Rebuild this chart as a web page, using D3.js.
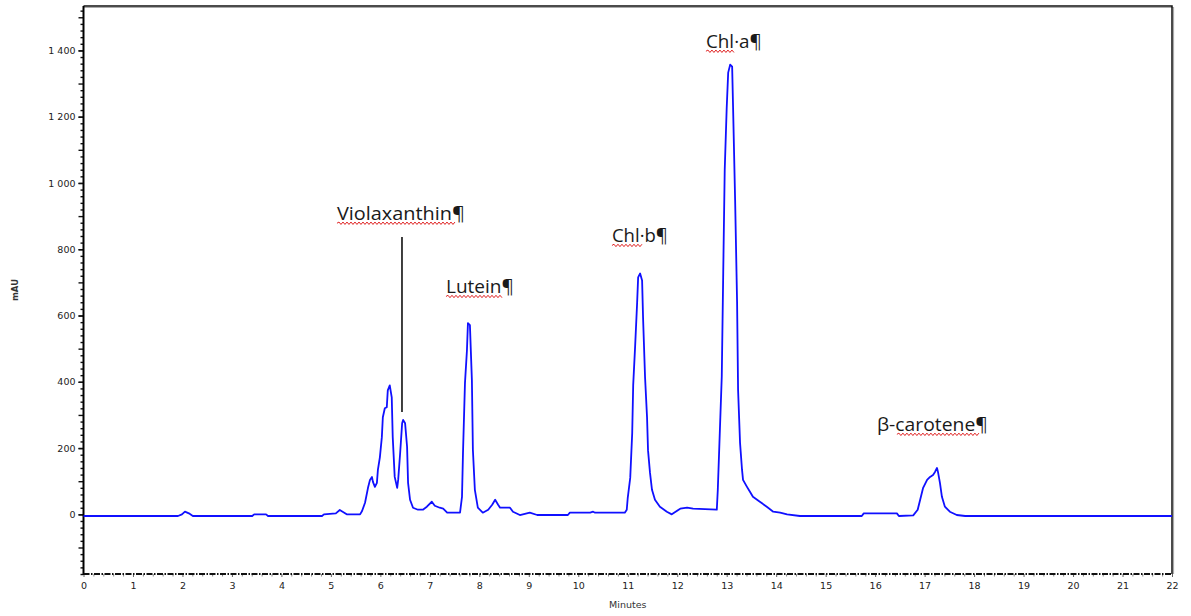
<!DOCTYPE html>
<html>
<head>
<meta charset="utf-8">
<script src="https://cdn.jsdelivr.net/npm/d3@7"></script>
<style>
  html, body { margin: 0; padding: 0; background: #fff; }
  svg { display: block; }
</style>
</head>
<body>
<svg id="chart" width="1191" height="616"></svg>
<script>
// ---------------- DATA ----------------
// Retention time (minutes)
const times = [
  0, 1.91, 1.99, 2.05, 2.13, 2.21, 3.41, 3.45, 3.69, 3.73,
  4.82, 4.86, 5.10, 5.18, 5.27, 5.32, 5.59, 5.63, 5.69, 5.75,
  5.79, 5.83, 5.85, 5.89, 5.93, 5.95, 5.99, 6.03, 6.05, 6.09,
  6.13, 6.15, 6.19, 6.23, 6.25, 6.29, 6.34, 6.36, 6.40, 6.44,
  6.46, 6.50, 6.54, 6.56, 6.60, 6.66, 6.76, 6.86, 6.94, 7.04,
  7.10, 7.20, 7.27, 7.35, 7.61, 7.65, 7.67, 7.71, 7.75, 7.77,
  7.81, 7.85, 7.87, 7.91, 7.97, 8.07, 8.18, 8.26, 8.32, 8.38,
  8.42, 8.62, 8.68, 8.82, 9.02, 9.17, 9.79, 9.83, 10.24, 10.30,
  10.34, 10.94, 10.98, 11.00, 11.05, 11.09, 11.11, 11.15, 11.19, 11.21,
  11.25, 11.29, 11.31, 11.35, 11.39, 11.41, 11.45, 11.49, 11.55, 11.65,
  11.79, 11.89, 12.06, 12.20, 12.32, 12.80, 12.82, 12.90, 12.93, 12.96,
  13.00, 13.03, 13.07, 13.11, 13.13, 13.17, 13.21, 13.23, 13.27, 13.31,
  13.33, 13.41, 13.47, 13.53, 13.67, 13.81, 13.94, 14.08, 14.22, 14.48,
  15.73, 15.77, 16.44, 16.48, 16.77, 16.86, 16.91, 16.97, 17.05, 17.11,
  17.17, 17.21, 17.25, 17.27, 17.31, 17.35, 17.41, 17.51, 17.65, 17.82,
  22
];
// Absorbance (mAU)
const mAU = [
  -5, -5, 0, 8, 3, -5, -5, 0, 0, -5,
  -5, 0, 3, 13, 5, 0, 0, 10, 35, 80,
  104, 113, 98, 83, 95, 134, 172, 233, 293, 320,
  323, 374, 389, 353, 233, 113, 80, 104, 185, 275,
  285, 275, 204, 95, 44, 20, 14, 14, 23, 38,
  26, 20, 17, 5, 5, 53, 185, 396, 495, 577,
  571, 405, 195, 74, 20, 5, 14, 29, 44, 29,
  20, 20, 8, -2, 5, -2, -2, 5, 5, 8,
  5, 5, 14, 50, 110, 245, 390, 510, 640, 715,
  727, 706, 591, 413, 293, 193, 125, 74, 44, 23,
  8, 0, 17, 20, 17, 14, 74, 415, 732, 1040,
  1227, 1333, 1357, 1351, 1220, 949, 638, 375, 215, 134,
  104, 83, 68, 53, 38, 23, 8, 5, 0, -5,
  -5, 3, 3, -5, -3, 14, 44, 80, 104, 113,
  119, 128, 140, 128, 95, 53, 23, 8, -2, -5,
  -5
];

// Peak labels (text anchored at data coordinates: time, mAU)
const peakNames = ["Violaxanthin\u00B6", "Lutein\u00B6", "Chl\u00B7b\u00B6", "Chl\u00B7a\u00B6", "\u03B2-carotene\u00B6"];
const peakLabelTime = [5.123, 7.326, 10.681, 12.580, 16.036];
const peakLabelMAU = [889, 668, 822, 1408, 252];
// Leader line for Violaxanthin (time, mAU top, mAU bottom)
const leaderTime = [6.437];
const leaderTop = [837];
const leaderBottom = [309];

// Axis ticks
const xTickLabels = d3.range(0, 23, 1);
const yTickLabels = [0, 200, 400, 600, 800, 1000, 1200, 1400];
const xDomain = [0, 22];
const yDomain = [-180, 1534];
const xTitle = "Minutes";
const yTitle = "mAU";

// ---------------- CHART ----------------
const svg = d3.select("#chart");
const L = 83.5, R = 1172, T = 6, B = 574;

const x = d3.scaleLinear().domain(xDomain).range([L, R]);
const y = d3.scaleLinear().domain(yDomain).range([B, T]);

const loc = d3.formatLocale({ decimal: ".", thousands: " ", grouping: [3], currency: ["", ""] });
const fmt = loc.format(",d");

const tickFont = "DejaVu Sans, Verdana, sans-serif";

// Minor y ticks (every 20)
const yMinor = d3.range(-180, 1534, 20).filter(v => v % 100 !== 0);
const yMid = d3.range(-100, 1534, 100);
svg.append("g")
  .attr("transform", `translate(${L},0)`)
  .call(d3.axisLeft(y).tickValues(yMinor).tickSize(3).tickFormat(""))
  .call(g => g.select(".domain").remove())
  .call(g => g.selectAll("line").attr("stroke", "#111").attr("stroke-width", 1.4));
svg.append("g")
  .attr("transform", `translate(${L},0)`)
  .call(d3.axisLeft(y).tickValues(yMid).tickSize(5).tickFormat(""))
  .call(g => g.select(".domain").remove())
  .call(g => g.selectAll("line").attr("stroke", "#111").attr("stroke-width", 1.4));
// Labeled y ticks
svg.append("g")
  .attr("transform", `translate(${L},0)`)
  .call(d3.axisLeft(y).tickValues(yTickLabels).tickSize(5).tickPadding(3).tickFormat(fmt))
  .call(g => g.select(".domain").remove())
  .call(g => g.selectAll("line").attr("stroke", "#111").attr("stroke-width", 1.4))
  .call(g => g.selectAll("text")
    .attr("font-family", tickFont).attr("font-size", "9.5px").attr("fill", "#222"));

// Minor x ticks (every 0.2)
const xMinor = d3.range(0, 22.001, 0.2).filter(v => Math.abs(v - Math.round(v)) > 0.01);
svg.append("g")
  .attr("transform", `translate(0,${B})`)
  .call(d3.axisBottom(x).tickValues(xMinor).tickSize(2.5).tickFormat(""))
  .call(g => g.select(".domain").remove())
  .call(g => g.selectAll("line").attr("stroke", "#888").attr("stroke-width", 1));
svg.append("g")
  .attr("transform", `translate(0,${B})`)
  .call(d3.axisBottom(x).tickValues(xTickLabels).tickSize(3).tickPadding(5).tickFormat(d3.format("d")))
  .call(g => g.select(".domain").remove())
  .call(g => g.selectAll("line").attr("stroke", "#666").attr("stroke-width", 1))
  .call(g => g.selectAll("text")
    .attr("font-family", tickFont).attr("font-size", "9.5px").attr("fill", "#222"));

// Frame: top & right (dark with gray shadow)
svg.append("path")
  .attr("d", `M${L},${T + 1.5}H${R + 1.5}V${B}`)
  .attr("fill", "none").attr("stroke", "#aaa").attr("stroke-width", 1.2);
svg.append("path")
  .attr("d", `M${L},${T}H${R}V${B}`)
  .attr("fill", "none").attr("stroke", "#111").attr("stroke-width", 1.5);
// Left axis line
svg.append("line")
  .attr("x1", L).attr("x2", L).attr("y1", T).attr("y2", B + 1)
  .attr("stroke", "#000").attr("stroke-width", 2);
// Bottom axis dash-dot line
svg.append("line")
  .attr("x1", L).attr("x2", R).attr("y1", B).attr("y2", B)
  .attr("stroke", "#111").attr("stroke-width", 1.8)
  .attr("stroke-dasharray", "6,1.5,1.5,1.5");

// Axis titles
svg.append("text")
  .attr("x", (L + R) / 2).attr("y", 608)
  .attr("text-anchor", "middle")
  .attr("font-family", tickFont).attr("font-size", "9.5px").attr("fill", "#333")
  .text(xTitle);
svg.append("text")
  .attr("transform", `translate(18,${(T + B) / 2}) rotate(-90)`)
  .attr("text-anchor", "middle")
  .attr("font-family", tickFont).attr("font-size", "8.5px").attr("font-weight", "bold").attr("fill", "#333")
  .text(yTitle);

// Chromatogram trace
const pts = times.map((t, i) => [t, mAU[i]]);
svg.append("path")
  .datum(pts)
  .attr("fill", "none")
  .attr("stroke", "#1010ff")
  .attr("stroke-width", 1.8)
  .attr("stroke-linejoin", "round")
  .attr("d", d3.line().x(d => x(d[0])).y(d => y(d[1])));

// Leader line
leaderTime.forEach((t, i) => {
  svg.append("line")
    .attr("x1", x(t)).attr("x2", x(t))
    .attr("y1", y(leaderTop[i])).attr("y2", y(leaderBottom[i]))
    .attr("stroke", "#000").attr("stroke-width", 1.5);
});

// Peak labels
const labelWidths = [128, 68, 56, 56, 111];
// spell-check underline spans (fraction of label width)
const squiggleSpan = [[0, 0.93], [0, 0.83], [0, 0.54], [0, 0.53], [0.18, 0.92]];
const squiggle = (x0, x1, yy) => {
  let d = `M${x0},${yy}`;
  let up = true;
  for (let xx = x0 + 2; xx <= x1; xx += 2) {
    d += `L${xx},${yy + (up ? -1.2 : 1.2)}`;
    up = !up;
  }
  return d;
};
peakNames.forEach((name, i) => {
  const px = x(peakLabelTime[i]);
  const py = y(peakLabelMAU[i]);
  const [f0, f1] = squiggleSpan[i];
  svg.append("path")
    .attr("d", squiggle(px + f0 * labelWidths[i], px + f1 * labelWidths[i], py + 3.5))
    .attr("fill", "none").attr("stroke", "#e02020").attr("stroke-width", 1);
  svg.append("text")
    .attr("x", px).attr("y", py)
    .attr("font-family", "Open Sans, Liberation Sans, sans-serif")
    .attr("font-size", "18px")
    .attr("fill", "#1a1a1a")
    .attr("textLength", labelWidths[i])
    .attr("lengthAdjust", "spacingAndGlyphs")
    .text(name);
});
</script>
</body>
</html>
